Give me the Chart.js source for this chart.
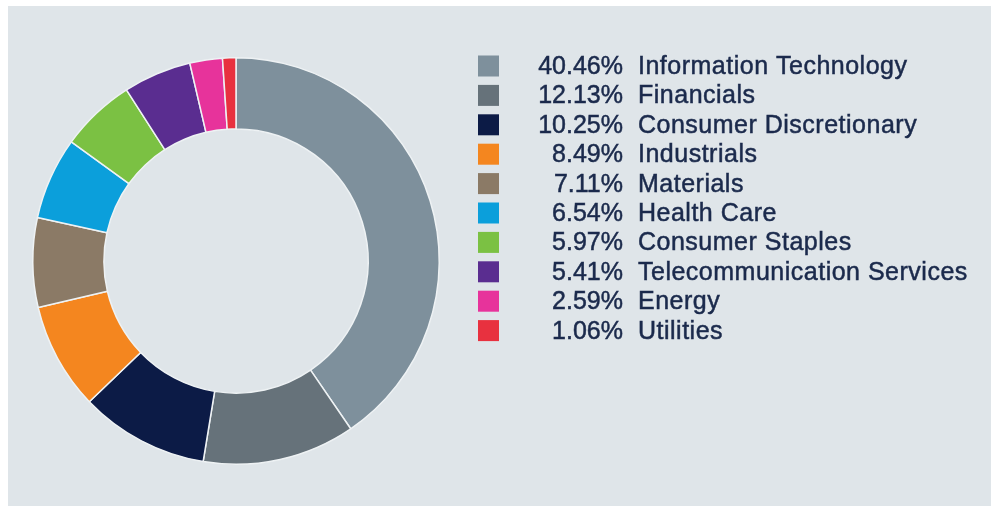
<!DOCTYPE html>
<html>
<head>
<meta charset="utf-8">
<script src="https://cdn.jsdelivr.net/npm/chart.js@4"></script>
<style>
  body { margin: 0; background: #ffffff; }
  #painel {
    position: absolute; left: 8px; top: 6px; width: 983px; height: 500px;
    background: #dfe5e9;
  }
  #grafico { position: absolute; left: 0; top: 0; }
</style>
</head>
<body>
<div id="painel"></div>
<canvas id="grafico" width="991" height="506"></canvas>
<script>
// dados do gráfico
const setores = [
  "Information Technology", "Financials", "Consumer Discretionary", "Industrials",
  "Materials", "Health Care", "Consumer Staples", "Telecommunication Services",
  "Energy", "Utilities"
];
const pesos = [40.46, 12.13, 10.25, 8.49, 7.11, 6.54, 5.97, 5.41, 2.59, 1.06];
const cores = [
  "#7e909c", "#66727a", "#0c1b46", "#f4861f", "#8b7a66",
  "#0b9fdb", "#7bc143", "#5a2d90", "#e7339b", "#e8313f"
];

// legenda desenhada no próprio canvas
const legendaLateral = {
  id: "legendaLateral",
  afterDraw(chart) {
    const ctx = chart.ctx;
    const ds = chart.data.datasets[0];
    const x0 = 478, y0 = 66, passo = 29.4, lado = 21;
    ctx.save();
    ctx.font = "25px 'Liberation Sans', Arial, sans-serif";
    ctx.textBaseline = "alphabetic";
    ctx.strokeStyle = "#1b2a4c";
    ctx.lineWidth = 0.5;
    chart.data.labels.forEach((nome, i) => {
      const y = y0 + i * passo;
      ctx.fillStyle = ds.backgroundColor[i];
      ctx.fillRect(x0, y - lado / 2, lado, lado);
      ctx.fillStyle = "#1b2a4c";
      ctx.letterSpacing = "0px";
      ctx.textAlign = "right";
      const pct = ds.data[i].toFixed(2) + "%";
      ctx.fillText(pct, 623, y + 8);
      ctx.strokeText(pct, 623, y + 8);
      ctx.letterSpacing = "0.5px";
      ctx.textAlign = "left";
      ctx.fillText(nome, 638, y + 8);
      ctx.strokeText(nome, 638, y + 8);
    });
    ctx.restore();
  }
};

function criarGrafico() {
  const ctx = document.getElementById("grafico");
  new Chart(ctx, {
    type: "doughnut",
    data: {
      labels: setores,
      datasets: [{
        data: pesos,
        backgroundColor: cores,
        borderColor: "#eef2f4",
        borderWidth: 1.5
      }]
    },
    options: {
      responsive: false,
      animation: false,
      devicePixelRatio: 1,
      cutout: "65%",
      layout: { padding: { left: 32, top: 57, right: 551, bottom: 41 } },
      plugins: {
        legend: { display: false },
        tooltip: { enabled: false }
      }
    },
    plugins: [legendaLateral]
  });
}

criarGrafico();
</script>
</body>
</html>
